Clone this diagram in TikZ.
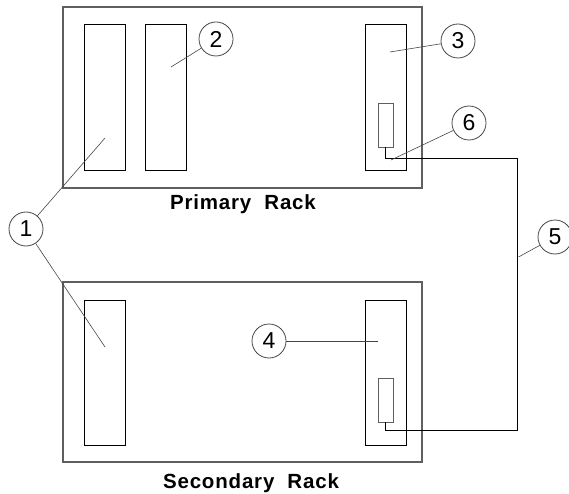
\documentclass[tikz,border=0pt]{standalone}
\usepackage{fontspec}
\setmainfont{Liberation Sans}
\newfontfamily\rackfont[LetterSpace=4]{Liberation Sans}
\usetikzlibrary{positioning}
\definecolor{rackgray}{RGB}{95,95,95}
\definecolor{leadgray}{RGB}{70,70,70}
\tikzset{
  rack/.style    = {draw=rackgray, line width=1.2pt, minimum width=359pt, minimum height=181pt, inner sep=0pt},
  slot/.style    = {draw=black, line width=0.9pt, minimum width=41pt, minimum height=146pt, inner sep=0pt},
  card/.style    = {draw=rackgray, line width=0.9pt, minimum width=15pt, minimum height=44pt, inner sep=0pt},
  callout/.style = {draw=leadgray, circle, line width=0.8pt, minimum size=34pt, inner sep=0pt, font=\fontsize{23}{23}\selectfont},
  leader/.style  = {draw=leadgray, line width=0.6pt},
  cable/.style   = {draw=black, line width=0.9pt},
  racklabel/.style = {font=\rackfont\bfseries\fontsize{20.5}{21}\selectfont, inner sep=0pt},
}
\begin{document}
\begin{tikzpicture}[x=1pt, y=-1pt]
  \useasboundingbox (0,0) rectangle (569,494);
  % primary rack
  \node[rack] (primary) at (242.5,97.5) {};
  \node[slot] (pslotA) at (104.5,97) {};
  \node[slot] (pslotB) at (166,97) {};
  \node[slot] (pslotC) at (385.5,97) {};
  \node[card] (pcard) at (385.5,125) {};
  \node[racklabel] (plabel) at (243,204) {Primary\ \ Rack};
  % secondary rack
  \node[rack, minimum height=180pt] (secondary) at (242.5,372) {};
  \node[slot, minimum height=145pt] (sslotA) at (104.5,372.5) {};
  \node[slot, minimum height=145pt] (sslotC) at (385.5,372.5) {};
  \node[card] (scard) at (385.5,400) {};
  \node[racklabel] (slabel) at (251,483) {Secondary\ \ Rack};
  % cable between the two cards
  \coordinate (bendA) at (517,158);
  \coordinate (bendB) at (517,430);
  \draw[cable] (pcard.south) |- (bendA) -- (bendB) -| (scard.south);
  % callouts
  \node[callout] (c1) at (26,229) {1};
  \node[callout] (c2) at (216,39) {2};
  \node[callout] (c3) at (458,41) {3};
  \node[callout] (c4) at (269,341) {4};
  \node[callout] (c5) at (555,237) {5};
  \node[callout] (c6) at (469,123) {6};
  \coordinate (t1a) at (105,138);
  \coordinate (t1b) at (105,347);
  \coordinate (t2) at (171,67);
  \coordinate (t3) at (390,52);
  \coordinate (t4) at (378,341);
  \coordinate (t5) at (518.5,257);
  \coordinate (t6) at (391,160);
  \draw[leader] (c1) -- (t1a);
  \draw[leader] (c1) -- (t1b);
  \draw[leader] (c2) -- (t2);
  \draw[leader] (c3) -- (t3);
  \draw[leader] (c4) -- (t4);
  \draw[leader] (c5) -- (t5);
  \draw[leader] (c6) -- (t6);
\end{tikzpicture}
\end{document}
